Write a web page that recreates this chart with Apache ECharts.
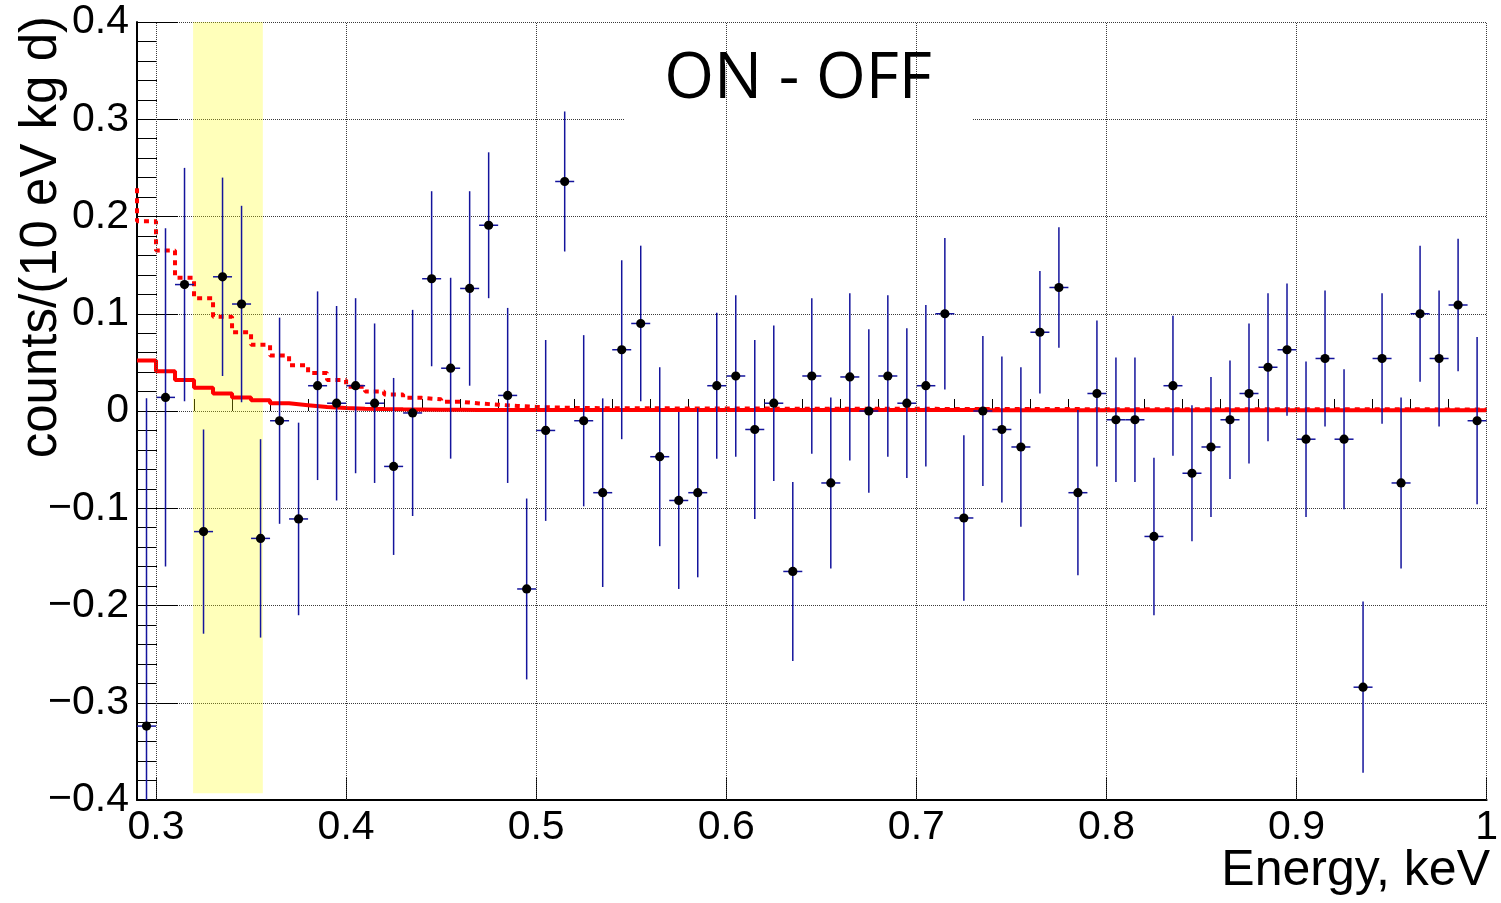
<!DOCTYPE html>
<html>
<head>
<meta charset="utf-8">
<title>ON - OFF</title>
<script src="https://cdn.jsdelivr.net/npm/echarts@6/dist/echarts.min.js"></script>
<style>
  html, body { margin: 0; padding: 0; background: #fff; }
  #chart { width: 1501px; height: 903px; }
</style>
</head>
<body>
<div id="chart"></div>
<script>
// Energy bins (keV), 10 eV wide; values are bin centres
const binWidth = 0.01;
const binCentres = [
  0.295, 0.305, 0.315, 0.325, 0.335, 0.345, 0.355, 0.365, 0.375, 0.385,
  0.395, 0.405, 0.415, 0.425, 0.435, 0.445, 0.455, 0.465, 0.475, 0.485,
  0.495, 0.505, 0.515, 0.525, 0.535, 0.545, 0.555, 0.565, 0.575, 0.585,
  0.595, 0.605, 0.615, 0.625, 0.635, 0.645, 0.655, 0.665, 0.675, 0.685,
  0.695, 0.705, 0.715, 0.725, 0.735, 0.745, 0.755, 0.765, 0.775, 0.785,
  0.795, 0.805, 0.815, 0.825, 0.835, 0.845, 0.855, 0.865, 0.875, 0.885,
  0.895, 0.905, 0.915, 0.925, 0.935, 0.945, 0.955, 0.965, 0.975, 0.985,
  0.995
];

// ON - OFF difference, counts/(10 eV kg d)
const rate = [
  -0.324, 0.014, 0.130, -0.124, 0.138, 0.110, -0.131, -0.010, -0.111, 0.026,
   0.008, 0.026, 0.008, -0.057, -0.002, 0.136, 0.044, 0.126, 0.191, 0.016,
  -0.183, -0.020, 0.236, -0.010, -0.084, 0.063, 0.090, -0.047, -0.092, -0.084,
   0.026, 0.036, -0.019, 0.008, -0.165, 0.036, -0.074, 0.035, 0.000, 0.036,
   0.008, 0.026, 0.100, -0.110, 0.000, -0.019, -0.037, 0.081, 0.127, -0.084,
   0.018, -0.009, -0.009, -0.129, 0.026, -0.064, -0.037, -0.009, 0.018, 0.045,
   0.063, -0.029, 0.054, -0.029, -0.284, 0.054, -0.074, 0.100, 0.054, 0.109,
  -0.010
];

// Statistical uncertainty of each bin (symmetric)
const rateErr = [
  0.337, 0.174, 0.120, 0.105, 0.102, 0.101, 0.102, 0.106, 0.099, 0.097,
  0.100, 0.090, 0.082, 0.091, 0.106, 0.090, 0.093, 0.100, 0.075, 0.090,
  0.093, 0.093, 0.072, 0.088, 0.097, 0.092, 0.080, 0.092, 0.091, 0.087,
  0.075, 0.083, 0.092, 0.080, 0.092, 0.080, 0.088, 0.086, 0.084, 0.083,
  0.077, 0.083, 0.078, 0.085, 0.077, 0.075, 0.082, 0.063, 0.062, 0.085,
  0.075, 0.064, 0.064, 0.081, 0.072, 0.070, 0.072, 0.061, 0.072, 0.076,
  0.068, 0.080, 0.070, 0.072, 0.088, 0.067, 0.088, 0.070, 0.070, 0.068,
  0.086
];

// Model expectation (solid), one value per bin starting at 0.29 keV
const modelSolidStart = 0.29;
const modelSolid = [
  0.052, 0.041, 0.032, 0.024, 0.018, 0.014, 0.011, 0.008, 0.006, 0.004,
  0.003, 0.0024, 0.002, 0.0017, 0.0015, 0.0013, 0.0012, 0.0011, 0.0010, 0.0010,
  0.0010, 0.0010, 0.0010, 0.0010, 0.0010, 0.0010, 0.0010, 0.0010, 0.0010, 0.0010,
  0.0010, 0.0010, 0.0010, 0.0010, 0.0010, 0.0010, 0.0010, 0.0010, 0.0010, 0.0010,
  0.0010, 0.0010, 0.0010, 0.0010, 0.0008, 0.0008, 0.0008, 0.0008, 0.0008, 0.0008,
  0.0008, 0.0008, 0.0008, 0.0008, 0.0008, 0.0008, 0.0008, 0.0008, 0.0008, 0.0008,
  0.0008, 0.0008, 0.0008, 0.0008, 0.0008, 0.0008, 0.0008, 0.0008, 0.0008, 0.0008,
  0.0008
];

// Model expectation (dashed), one value per bin starting at 0.28 keV
const modelDashedStart = 0.28;
const modelDashed = [
  0.230,
  0.195, 0.165, 0.137, 0.116, 0.097, 0.081, 0.068, 0.057, 0.047, 0.039,
  0.032, 0.025, 0.020, 0.017, 0.0135, 0.012, 0.0095, 0.0078, 0.0065, 0.0052,
  0.0042, 0.0036, 0.0032, 0.0030, 0.0028, 0.0028, 0.0027, 0.0027, 0.0026, 0.0026,
  0.0025, 0.0025, 0.0025, 0.0024, 0.0024, 0.0024, 0.0023, 0.0023, 0.0023, 0.0022,
  0.0022, 0.0022, 0.0021, 0.0021, 0.0021, 0.0020, 0.0020, 0.0020, 0.0020, 0.0019,
  0.0019, 0.0019, 0.0019, 0.0019, 0.0018, 0.0018, 0.0018, 0.0018, 0.0018, 0.0018,
  0.0018, 0.0017, 0.0017, 0.0017, 0.0017, 0.0017, 0.0017, 0.0017, 0.0016, 0.0016,
  0.0016
];

// Highlighted energy window
const bandEnergy = [0.3195, 0.3562];
const bandRate = [-0.393, 0.4];

// Axis ranges and tick positions
const xRange = [0.29, 1.0];
const yRange = [-0.4, 0.4];
const xMajorTicks = [0.3, 0.4, 0.5, 0.6, 0.7, 0.8, 0.9, 1.0];
const xMinorTicks = [
  0.32, 0.34, 0.36, 0.38, 0.42, 0.44, 0.46, 0.48, 0.52, 0.54, 0.56, 0.58,
  0.62, 0.64, 0.66, 0.68, 0.72, 0.74, 0.76, 0.78, 0.82, 0.84, 0.86, 0.88,
  0.92, 0.94, 0.96, 0.98
];

const titleText = 'ON - OFF';
const xTitle = 'Energy, keV';
const yTitle = 'counts/(10 eV kg d)';

// ---------------------------------------------------------------------------

function stepPoints(values, firstEdge) {
  const pts = values.map((v, i) => [+(firstEdge + i * binWidth).toFixed(4), v]);
  pts.push([+(firstEdge + values.length * binWidth).toFixed(4), values[values.length - 1]]);
  return pts;
}

const points = binCentres.map((x, i) => [x, rate[i], rateErr[i]]);

const labelFont = 'Liberation Sans, Arial, Helvetica, sans-serif';
const gridDots = { type: [1, 1], color: '#3a3a3a', width: 1 };
const barColor = '#14149c';

const chart = echarts.init(document.getElementById('chart'), null, { renderer: 'canvas' });

chart.setOption({
  animation: false,
  backgroundColor: '#fff',
  grid: { left: 137, right: 11, top: 22, bottom: 103, containLabel: false },
  xAxis: [
    {
      type: 'value',
      min: xRange[0],
      max: xRange[1],
      axisLine: { show: true, onZero: false, lineStyle: { color: '#000', width: 2 } },
      axisTick: {
        show: true, inside: true, length: 23, customValues: xMajorTicks,
        lineStyle: { color: '#000', width: 1 }
      },
      axisLabel: {
        show: true, customValues: xMajorTicks, margin: 7,
        color: '#000', fontSize: 41, fontFamily: labelFont,
        formatter: v => String(+(+v).toFixed(2))
      },
      splitLine: { show: false }
    },
    {
      type: 'value',
      gridIndex: 0,
      position: 'bottom',
      min: xRange[0],
      max: xRange[1],
      axisLine: { show: false },
      axisTick: {
        show: true, inside: true, length: 12, customValues: xMinorTicks,
        lineStyle: { color: '#000', width: 1 }
      },
      axisLabel: { show: false },
      splitLine: { show: false }
    }
  ],
  yAxis: {
    type: 'value',
    min: yRange[0],
    max: yRange[1],
    interval: 0.1,
    axisLine: { show: true, onZero: false, lineStyle: { color: '#000', width: 2 } },
    axisTick: { show: true, inside: true, length: 41, lineStyle: { color: '#000', width: 1 } },
    minorTick: { show: true, splitNumber: 5, length: 20, lineStyle: { color: '#000', width: 1 } },
    axisLabel: {
      margin: 8, color: '#000', fontSize: 41, fontFamily: labelFont,
      formatter: v => {
        const r = Math.round(v * 10) / 10;
        if (r === 0) return '0';
        return (r < 0 ? '\u2212' : '') + Math.abs(r).toFixed(1);
      }
    },
    splitLine: { show: true, lineStyle: gridDots }
  },
  graphic: [
    {
      type: 'rect', z: 1,
      shape: { x: 624, y: 26, width: 349, height: 99 },
      style: { fill: '#fff' }
    },
    {
      type: 'text', z: 10, x: 798, y: 80,
      style: {
        text: titleText, fill: '#000',
        font: '64px "Open Sans", sans-serif',
        textAlign: 'center', textVerticalAlign: 'middle'
      }
    },
    {
      type: 'text', z: 10, x: 1490, y: 871,
      style: {
        text: xTitle, fill: '#000',
        font: '50px ' + labelFont,
        textAlign: 'right', textVerticalAlign: 'middle'
      }
    },
    {
      type: 'text', z: 10, x: 42, y: 16, rotation: Math.PI / 2,
      style: {
        text: yTitle, fill: '#000',
        font: '51px ' + labelFont,
        textAlign: 'right', textVerticalAlign: 'middle'
      }
    }
  ],
  series: [
    {
      // vertical dotted grid at the major energy ticks
      type: 'line',
      data: [],
      z: 0,
      silent: true,
      markLine: {
        silent: true,
        symbol: ['none', 'none'],
        label: { show: false },
        lineStyle: gridDots,
        data: xMajorTicks.map(v => ({ xAxis: v }))
      }
    },
    {
      name: 'model',
      type: 'line',
      step: 'end',
      z: 2,
      showSymbol: false,
      clip: true,
      data: stepPoints(modelSolid, modelSolidStart),
      lineStyle: { color: '#ff0000', width: 4 }
    },
    {
      name: 'model (dashed)',
      type: 'line',
      step: 'end',
      z: 2,
      showSymbol: false,
      clip: true,
      data: stepPoints(modelDashed, modelDashedStart),
      lineStyle: { color: '#ff0000', width: 4, type: [5, 5] }
    },
    {
      name: 'ON - OFF',
      type: 'custom',
      z: 3,
      clip: true,
      data: points,
      encode: { x: 0, y: 1 },
      renderItem: (params, api) => {
        const x = api.value(0);
        const y = api.value(1);
        const e = api.value(2);
        const lo = Math.max(y - e, yRange[0]);
        const hi = Math.min(y + e, yRange[1]);
        const top = api.coord([x, hi]);
        const bot = api.coord([x, lo]);
        const left = api.coord([x - binWidth / 2, y]);
        const right = api.coord([x + binWidth / 2, y]);
        const c = api.coord([x, y]);
        return {
          type: 'group',
          children: [
            { type: 'line', shape: { x1: top[0], y1: top[1], x2: bot[0], y2: bot[1] },
              style: { stroke: barColor, lineWidth: 1.5 } },
            { type: 'line', shape: { x1: left[0], y1: left[1], x2: right[0], y2: right[1] },
              style: { stroke: barColor, lineWidth: 1.5 } },
            { type: 'circle', shape: { cx: c[0], cy: c[1], r: 4.6 },
              style: { fill: '#000' } }
          ]
        };
      }
    },
    {
      // translucent highlight drawn over the data
      type: 'line',
      data: [],
      z: 5,
      silent: true,
      markArea: {
        silent: true,
        itemStyle: { color: 'rgba(255,255,0,0.27)' },
        data: [[
          { xAxis: bandEnergy[0], yAxis: bandRate[0] },
          { xAxis: bandEnergy[1], yAxis: bandRate[1] }
        ]]
      }
    }
  ]
});
</script>
</body>
</html>
